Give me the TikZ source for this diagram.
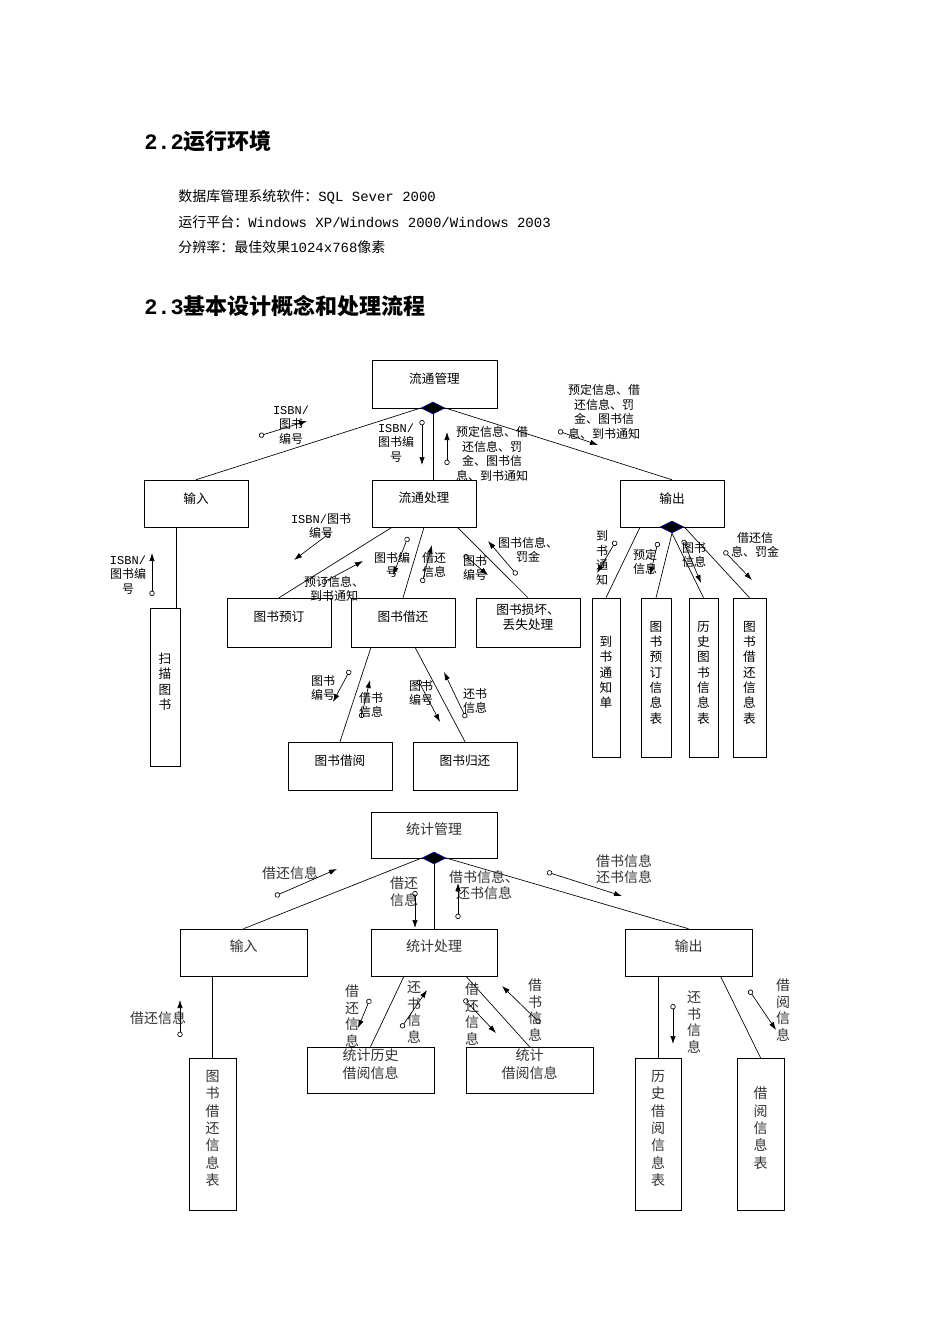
\documentclass[tikz,border=0pt]{standalone}
\usepackage{fontspec}
\setmainfont{Noto Sans CJK SC}
\newfontfamily\monof{Liberation Mono}
\usetikzlibrary{shapes.geometric,arrows.meta,fit,calc}
\tikzset{
 box/.style={draw,inner sep=0pt,align=center},
 dia/.style={diamond,draw=blue!70!black,fill=black,minimum width=18pt,minimum height=9pt,inner sep=0pt},
 ln/.style={draw,line width=0.5pt},
 cp/.style={{Circle[open,length=4pt,width=4pt]}-{Latex[length=6pt,width=4pt]},line width=0.5pt},
 lb/.style={align=center,inner sep=0pt,font=\fontsize{9}{11}\selectfont},
 lbb/.style={align=center,inner sep=0pt,font=\fontsize{10.5}{12.5}\selectfont,text=black!80},
 bt/.style={font=\fontsize{9.5}{11.5}\selectfont},
 btb/.style={font=\fontsize{10.5}{13}\selectfont,text=black!80},
}
\begin{document}
\begin{tikzpicture}[x=0.75pt,y=-0.75pt]
\useasboundingbox[fill=white] (0,0) rectangle (950,1344);
% header text
\node[anchor=west,inner sep=0,font=\fontsize{16.5}{18}\selectfont\bfseries] (h1) at (144,141) {{\monof 2.2}运行环境};
\node[anchor=west,inner sep=0,font=\fontsize{10.5}{12}\selectfont] (t1) at (178,197) {数据库管理系统软件：{\monof SQL Sever 2000}};
\node[anchor=west,inner sep=0,font=\fontsize{10.5}{12}\selectfont] (t2) at (178,222) {运行平台：{\monof Windows XP/Windows 2000/Windows 2003}};
\node[anchor=west,inner sep=0,font=\fontsize{10.5}{12}\selectfont] (t3) at (178,247) {分辨率：最佳效果{\monof 1024x768}像素};
\node[anchor=west,inner sep=0,font=\fontsize{16.5}{18}\selectfont\bfseries] (h2) at (144,306) {{\monof 2.3}基本设计概念和处理流程};

% ===== top diagram =====
\node[box,bt,fit={(372,360)(497,408)}] (lt) {流通管理};
\node[box,bt,fit={(144,480)(248,527)}] (in1) {输入};
\node[box,bt,fit={(372,480)(476,527)}] (lc) {流通处理};
\node[box,bt,fit={(620,480)(724,527)}] (out1) {输出};
\node[box,bt,fit={(150,608)(180,766)}] (scan) {扫\\描\\图\\书};
\node[box,bt,fit={(227,598)(331,647)}] (yd) {图书预订};
\node[box,bt,fit={(351,598)(455,647)}] (jh) {图书借还};
\node[box,bt,fit={(476,598)(580,647)}] (sh) {图书损坏、\\丢失处理};
\node[box,bt,fit={(592,598)(620,757)}] (o1) {到\\书\\通\\知\\单};
\node[box,bt,fit={(641,598)(671,757)}] (o2) {图\\书\\预\\订\\信\\息\\表};
\node[box,bt,fit={(689,598)(718,757)}] (o3) {历\\史\\图\\书\\信\\息\\表};
\node[box,bt,fit={(733,598)(766,757)}] (o4) {图\\书\\借\\还\\信\\息\\表};
\node[box,bt,fit={(288,742)(392,790)}] (jy) {图书借阅};
\node[box,bt,fit={(413,742)(517,790)}] (gh) {图书归还};
\node[dia] (d1) at (433,408) {};
\node[dia] (d2) at (672,527) {};

\draw[ln] (d1.west) -- ([xshift=0pt]in1.north);
\draw[ln] (d1.south) -- (d1.south |- lc.north);
\draw[ln] (d1.east) -- (out1.north);
\draw[ln] ([xshift=-15pt]in1.south) -- ([xshift=-15pt]in1.south |- scan.north);
\draw[ln] ([xshift=-24pt]lc.south) -- (yd.north);
\draw[ln] ([xshift=0pt]lc.south) -- (jh.north);
\draw[ln] ([xshift=25pt]lc.south) -- (sh.north);
\draw[ln] ([xshift=-24pt]out1.south) -- (o1.north);
\draw[ln] (d2.south) -- (o2.north);
\draw[ln] (d2.south) -- (o3.north);
\draw[ln] (d2.east) -- (o4.north);
\draw[ln] ([xshift=-24pt]jh.south) -- (jy.north);
\draw[ln] ([xshift=9pt]jh.south) -- (gh.north);

% top couples
\node[lb] (l1) at (291,425) {{\monof ISBN/}\\图书\\编号};
\draw[cp] (259,436) -- (307,421);
\node[lb] (l2) at (396,443) {{\monof ISBN/}\\图书编\\号};
\draw[cp] (422,420) -- (422,465);
\node[lb] (l3) at (492,454) {预定信息、借\\还信息、罚\\金、图书信\\息、到书通知};
\draw[cp] (447,465) -- (447,432);
\node[lb] (l4) at (604,412) {预定信息、借\\还信息、罚\\金、图书信\\息、到书通知};
\draw[cp] (558,431) -- (598,445);
\node[lb] (l5) at (321,526) {{\monof ISBN/}图书\\编号};
\draw[cp] (330,533) -- (294,560);
\node[lb] (l6) at (334,589) {预订信息、\\到书通知};
\draw[cp] (322,583) -- (363,561);
\node[lb] (l7) at (392,565) {图书编\\号};
\draw[cp] (408,537) -- (393,575);
\node[lb] (l8) at (434,565) {借还\\信息};
\draw[cp] (422,583) -- (432,545);
\node[lb] (l9) at (475,568) {图书\\编号};
\draw[cp] (464,555) -- (488,575);
\node[lb] (l10) at (528,550) {图书信息、\\罚金};
\draw[cp] (517,575) -- (488,541);
\node[lb] (l11) at (602,558) {到\\书\\通\\知};
\draw[cp] (616,541) -- (597,573);
\node[lb] (l12) at (645,562) {预定\\信息};
\draw[cp] (658,542) -- (650,575);
\node[lb] (l13) at (694,555) {图书\\信息};
\draw[cp] (683,540) -- (701,583);
\node[lb] (l14) at (755,545) {借还信\\息、罚金};
\draw[cp] (724,551) -- (752,580);
\node[lb] (l15) at (128,575) {{\monof ISBN/}\\图书编\\号};
\draw[cp] (152,596) -- (152,553);
\node[lb] (l16) at (323,688) {图书\\编号};
\draw[cp] (350,670) -- (333,702);
\node[lb] (l17) at (371,705) {借书\\信息};
\draw[cp] (361,718) -- (370,680);
\node[lb] (l18) at (421,693) {图书\\编号};
\draw[cp] (418,680) -- (440,722);
\node[lb] (l19) at (475,701) {还书\\信息};
\draw[cp] (466,718) -- (444,672);

% ===== bottom diagram =====
\node[box,btb,fit={(371,812)(497,858)}] (st) {统计管理};
\node[box,btb,fit={(180,929)(307,976)}] (in2) {输入};
\node[box,btb,fit={(371,929)(497,976)}] (sc) {统计处理};
\node[box,btb,fit={(625,929)(752,976)}] (out2) {输出};
\node[box,btb,fit={(189,1058)(236,1210)}] (b1) {图\\书\\借\\还\\信\\息\\表};
\node[box,btb,fit={(307,1047)(434,1093)}] (b2) {统计历史\\借阅信息};
\node[box,btb,fit={(466,1047)(593,1093)}] (b3) {统计\\借阅信息};
\node[box,btb,fit={(635,1058)(681,1210)}] (b4) {历\\史\\借\\阅\\信\\息\\表};
\node[box,btb,fit={(737,1058)(784,1210)}] (b5) {借\\阅\\信\\息\\表};
\node[dia] (d3) at (434,858) {};

\draw[ln] (d3.west) -- (in2.north);
\draw[ln] (d3.south) -- (d3.south |- sc.north);
\draw[ln] (d3.east) -- (out2.north);
\draw[ln] (in2.south -| b1.north) -- (b1.north);
\draw[ln] ([xshift=-22.5pt]sc.south) -- ([xshift=0pt]b2.north);
\draw[ln] ([xshift=24pt]sc.south) -- (b3.north);
\draw[ln] (out2.south -| b4.north) -- (b4.north);
\draw[ln] ([xshift=24pt]out2.south) -- (b5.north);

\node[lbb] (m1) at (290,873) {借还信息};
\draw[cp] (275,896) -- (337,869);
\node[lbb] (m2) at (404,892) {借还\\信息};
\draw[cp] (415,891) -- (415,928);
\node[lbb] (m3) at (484,885) {借书信息、\\还书信息};
\draw[cp] (458,919) -- (458,883);
\node[lbb] (m4) at (624,869) {借书信息\\还书信息};
\draw[cp] (547,872) -- (622,896);
\node[lbb] (m5) at (158,1018) {借还信息};
\draw[cp] (180,1037) -- (180,1000);
\node[lbb] (m6) at (352,1016) {借\\还\\信\\息};
\draw[cp] (370,999) -- (358,1028);
\node[lbb] (m7) at (414,1012) {还\\书\\信\\息};
\draw[cp] (401,1028) -- (427,990);
\node[lbb] (m8) at (472,1014) {借\\还\\信\\息};
\draw[cp] (464,999) -- (496,1033);
\node[lbb] (m9) at (535,1010) {借\\书\\信\\息};
\draw[cp] (540,1023) -- (502,986);
\node[lbb] (m10) at (694,1022) {还\\书\\信\\息};
\draw[cp] (673,1004) -- (673,1044);
\node[lbb] (m11) at (783,1010) {借\\阅\\信\\息};
\draw[cp] (749,990) -- (776,1030);
\end{tikzpicture}
\end{document}
